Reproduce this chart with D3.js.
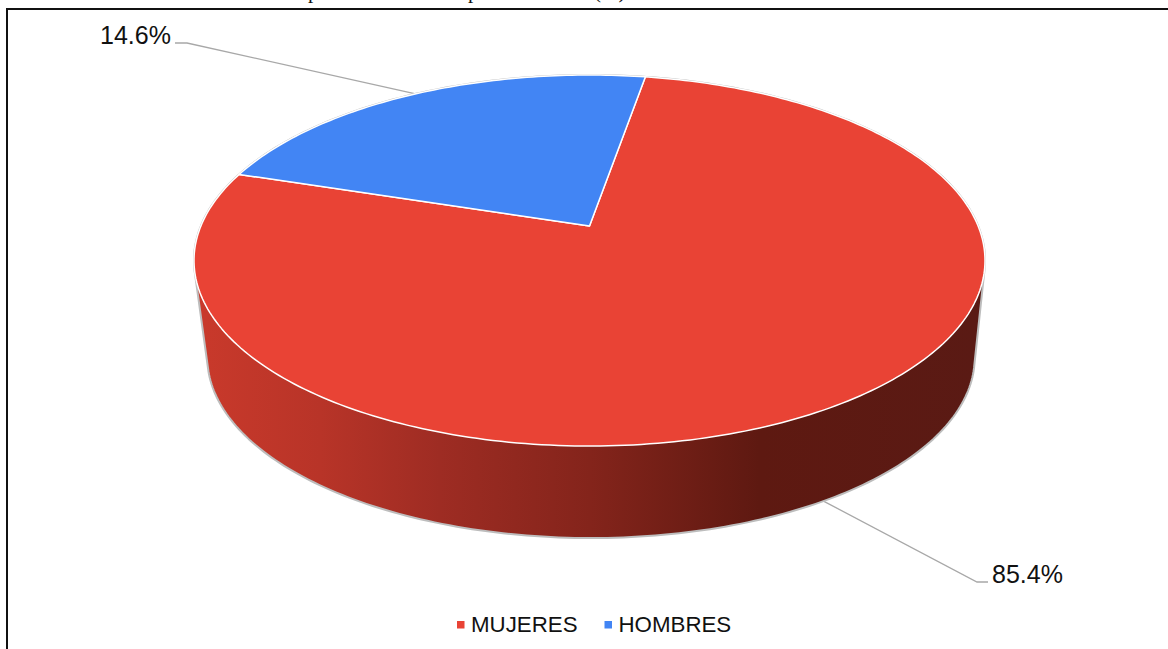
<!DOCTYPE html>
<html>
<head>
<meta charset="utf-8">
<script src="https://cdn.jsdelivr.net/npm/d3@7"></script>
<style>
  html, body { margin: 0; padding: 0; background: #fff; }
  svg { display: block; }
  text { font-family: "Liberation Sans", Arial, sans-serif; fill: #111; }
</style>
</head>
<body>
<svg></svg>
<script>
const categories = ['MUJERES', 'HOMBRES'];
const labels = ['85.4%', '14.6%'];
// share of the disc each slice covers as drawn (the picture does not follow the labels)
const drawnShares = [77.2, 22.8];
const colors = ['#e94335', '#4285f4'];

const [width, height] = [1168, 649];

const svg = d3.select('svg')
    .attr('width', width)
    .attr('height', height);

// perspective disc: p is the foreshortening, z 0 is the top face and z 1 the bottom one
const p = 0.186;
const faces = [
    { x: 589.5, y: 226, w: 388.6, h: 179.1 },
    { x: 591, y: 323.8, w: 377, h: 174.4 }
];
const project = (angle, z) => {
    const f = faces[z];
    const u = Math.sin(angle), v = -Math.cos(angle);
    const d = 1 - p * v;
    return [f.x + f.w * u / d, f.y + f.h * v / d];
};

const tau = 2 * Math.PI;
const start = 9.8 / 360 * tau;
const arcs = d3.pie().sort(null).startAngle(start).endAngle(start + tau)(drawnShares);
const mid = d => (d.startAngle + d.endAngle) / 2;
const line = d3.line();

const rim = z => d3.range(0, 360, 1).map(a => project(a / 360 * tau, z));

// frame, only the top and left sides are in the shot
svg.append('path')
    .attr('d', `M${width},9H7V${height}`)
    .attr('fill', 'none')
    .attr('stroke', '#111')
    .attr('stroke-width', 2);

// caption above the frame is cut by the page edge, only descenders show
const captionBits = [['p', 308], ['p', 468], ['(%)', 594]];
svg.append('g')
    .selectAll('text')
    .data(captionBits)
    .join('text')
    .attr('x', d => d[1])
    .attr('y', -2)
    .style('font-family', '"Liberation Serif", serif')
    .style('font-size', '21px')
    .text(d => d[0]);

// leader lines go behind the pie
const leaders = [
    { from: project(mid(arcs[0]), 1), elbow: [977, 582], to: [988, 582] },
    { from: project(mid(arcs[1]), 0), elbow: [187, 43], to: [175, 43] }
];
svg.append('g')
    .selectAll('path')
    .data(leaders)
    .join('path')
    .attr('d', d => line([d.from, d.elbow, d.to]))
    .attr('fill', 'none')
    .attr('stroke', '#a8a8a8')
    .attr('stroke-width', 1.3);

// side wall
const wallGrad = svg.append('defs').append('linearGradient')
    .attr('id', 'wall')
    .attr('gradientUnits', 'userSpaceOnUse')
    .attr('x1', 205).attr('x2', 975)
    .attr('y1', 0).attr('y2', 0);
wallGrad.selectAll('stop')
    .data([[0, '#c8392b'], [0.15, '#b83428'], [0.305, '#9e2c23'], [0.5, '#84241b'], [0.72, '#5e1911'], [1, '#5a1a14']])
    .join('stop')
    .attr('offset', d => d[0])
    .attr('stop-color', d => d[1]);

svg.append('path')
    .attr('d', line(d3.polygonHull(rim(0).concat(rim(1)))) + 'Z')
    .attr('fill', 'url(#wall)')
    .attr('stroke', '#bdbdbd')
    .attr('stroke-width', 2)
    .attr('stroke-linejoin', 'round');

// top face
const slicePath = d => {
    const n = Math.ceil((d.endAngle - d.startAngle) / tau * 360);
    const pts = d3.range(n + 1).map(i => project(d.startAngle + (d.endAngle - d.startAngle) * i / n, 0));
    return line([[faces[0].x, faces[0].y], ...pts]) + 'Z';
};
svg.append('g')
    .selectAll('path')
    .data(arcs)
    .join('path')
    .attr('d', slicePath)
    .attr('fill', (d, i) => colors[i])
    .attr('stroke', '#fff')
    .attr('stroke-width', 1.5)
    .attr('stroke-linejoin', 'round');

// value labels
const labelSpots = [[992, 583], [100, 44]];
svg.append('g')
    .selectAll('text')
    .data(labels)
    .join('text')
    .attr('x', (d, i) => labelSpots[i][0])
    .attr('y', (d, i) => labelSpots[i][1])
    .style('font-size', '25px')
    .text(d => d);

// legend
const legendX = d3.scaleOrdinal().domain(categories).range([457, 604.5]);
const legend = svg.append('g')
    .selectAll('g')
    .data(categories)
    .join('g')
    .attr('transform', d => `translate(${[legendX(d), 0]})`);
legend.append('rect')
    .attr('y', 621)
    .attr('width', 7.5)
    .attr('height', 7.5)
    .attr('fill', (d, i) => colors[i]);
legend.append('text')
    .attr('x', 14)
    .attr('y', 632)
    .style('font-size', '22.3px')
    .text(d => d);
</script>
</body>
</html>
